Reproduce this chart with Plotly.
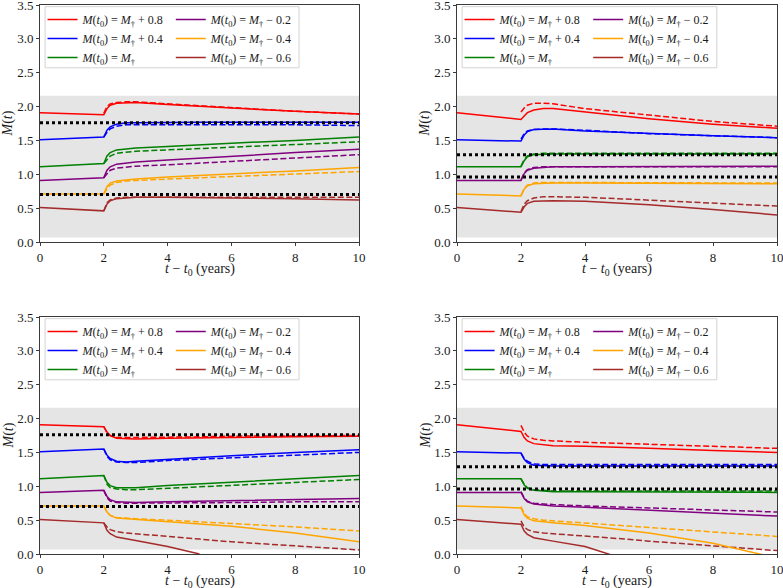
import plotly.graph_objects as go
from plotly.subplots import make_subplots

# ---------------- data ----------------
t = [0, 2, 2.1, 2.2, 2.4, 2.7, 3, 4, 5, 6, 8, 10]

offsets = ["+ 0.8", "+ 0.4", "", "− 0.2", "− 0.4", "− 0.6"]
colors = ["#ff0000", "#0000ff", "#008000", "#800080", "#ffa500", "#a52a2a"]

band_low = 0.065
band_high = 2.16

# panel A (top-left)
A_solid = [
    [1.91, 1.88, 1.97, 2.02, 2.05, 2.06, 2.06, 2.03, 2.01, 1.98, 1.93, 1.89],
    [1.51, 1.55, 1.65, 1.70, 1.74, 1.76, 1.76, 1.77, 1.77, 1.77, 1.77, 1.77],
    [1.11, 1.16, 1.27, 1.32, 1.36, 1.38, 1.39, 1.41, 1.44, 1.46, 1.50, 1.55],
    [0.91, 0.95, 1.06, 1.11, 1.15, 1.17, 1.18, 1.21, 1.24, 1.26, 1.32, 1.37],
    [0.71, 0.71, 0.82, 0.87, 0.90, 0.92, 0.93, 0.96, 0.98, 1.00, 1.05, 1.10],
    [0.51, 0.46, 0.56, 0.61, 0.64, 0.65, 0.66, 0.66, 0.66, 0.65, 0.64, 0.62],
]
A_dashed = [
    [None, 1.90, 2.00, 2.04, 2.06, 2.07, 2.07, 2.04, 2.01, 1.98, 1.93, 1.89],
    [None, 1.55, 1.62, 1.67, 1.71, 1.73, 1.73, 1.74, 1.74, 1.74, 1.73, 1.72],
    [None, 1.16, 1.22, 1.27, 1.31, 1.33, 1.34, 1.36, 1.38, 1.40, 1.44, 1.48],
    [None, 0.95, 1.01, 1.06, 1.09, 1.11, 1.12, 1.14, 1.17, 1.19, 1.24, 1.29],
    [None, 0.71, 0.79, 0.84, 0.88, 0.90, 0.91, 0.93, 0.95, 0.97, 1.00, 1.04],
    [None, 0.46, 0.58, 0.62, 0.65, 0.66, 0.66, 0.67, 0.67, 0.67, 0.67, 0.66],
]
A_levels = [1.76, 0.70]

# panel B (top-right)
B_solid = [
    [1.91, 1.81, 1.86, 1.91, 1.95, 1.97, 1.97, 1.92, 1.87, 1.82, 1.74, 1.68],
    [1.51, 1.49, 1.58, 1.63, 1.66, 1.67, 1.67, 1.64, 1.62, 1.60, 1.57, 1.54],
    [1.11, 1.11, 1.20, 1.26, 1.29, 1.30, 1.30, 1.30, 1.30, 1.30, 1.30, 1.30],
    [0.91, 0.91, 1.01, 1.06, 1.09, 1.10, 1.11, 1.11, 1.11, 1.12, 1.12, 1.12],
    [0.71, 0.68, 0.78, 0.83, 0.86, 0.87, 0.87, 0.87, 0.87, 0.87, 0.87, 0.86],
    [0.51, 0.44, 0.52, 0.57, 0.60, 0.61, 0.61, 0.60, 0.58, 0.55, 0.48, 0.40],
]
B_dashed = [
    [None, 1.92, 1.98, 2.02, 2.05, 2.05, 2.04, 1.97, 1.92, 1.87, 1.78, 1.71],
    [None, 1.52, 1.60, 1.64, 1.66, 1.67, 1.67, 1.65, 1.62, 1.60, 1.57, 1.54],
    [None, 1.12, 1.22, 1.27, 1.30, 1.31, 1.31, 1.31, 1.31, 1.31, 1.31, 1.31],
    [None, 0.92, 1.02, 1.07, 1.10, 1.11, 1.11, 1.11, 1.12, 1.12, 1.12, 1.11],
    [None, 0.69, 0.79, 0.84, 0.87, 0.88, 0.88, 0.88, 0.88, 0.88, 0.87, 0.87],
    [None, 0.45, 0.56, 0.61, 0.65, 0.67, 0.67, 0.66, 0.64, 0.62, 0.58, 0.53],
]
B_levels = [1.29, 0.96]

# panel C (bottom-left)
C_solid = [
    [1.91, 1.88, 1.80, 1.75, 1.71, 1.70, 1.70, 1.71, 1.71, 1.72, 1.73, 1.74],
    [1.51, 1.55, 1.46, 1.41, 1.37, 1.36, 1.37, 1.40, 1.42, 1.45, 1.50, 1.54],
    [1.11, 1.16, 1.06, 1.01, 0.98, 0.98, 0.98, 1.01, 1.04, 1.06, 1.11, 1.16],
    [0.91, 0.94, 0.85, 0.80, 0.77, 0.76, 0.76, 0.77, 0.78, 0.79, 0.80, 0.82],
    [0.71, 0.71, 0.62, 0.57, 0.53, 0.52, 0.51, 0.48, 0.45, 0.41, 0.31, 0.18],
    [0.51, 0.46, 0.35, 0.30, 0.25, 0.22, 0.20, 0.11, 0.00, None, None, None],
]
C_dashed = [
    [None, 1.88, 1.79, 1.75, 1.72, 1.72, 1.72, 1.73, 1.73, 1.74, 1.74, 1.75],
    [None, 1.55, 1.44, 1.39, 1.36, 1.35, 1.35, 1.38, 1.40, 1.42, 1.46, 1.50],
    [None, 1.16, 1.03, 0.98, 0.96, 0.95, 0.95, 0.97, 0.99, 1.01, 1.05, 1.10],
    [None, 0.94, 0.83, 0.78, 0.76, 0.75, 0.75, 0.75, 0.76, 0.76, 0.77, 0.77],
    [None, 0.71, 0.62, 0.57, 0.54, 0.53, 0.52, 0.50, 0.47, 0.45, 0.40, 0.34],
    [None, 0.46, 0.40, 0.36, 0.33, 0.31, 0.30, 0.26, 0.22, 0.18, 0.12, 0.06],
]
C_levels = [1.76, 0.70]

# panel D (bottom-right)
D_solid = [
    [1.91, 1.81, 1.72, 1.67, 1.63, 1.61, 1.60, 1.59, 1.57, 1.56, 1.53, 1.50],
    [1.51, 1.49, 1.40, 1.35, 1.31, 1.30, 1.30, 1.30, 1.30, 1.30, 1.30, 1.30],
    [1.11, 1.11, 1.02, 0.97, 0.94, 0.93, 0.92, 0.92, 0.92, 0.92, 0.91, 0.91],
    [0.91, 0.91, 0.82, 0.77, 0.74, 0.72, 0.71, 0.69, 0.67, 0.65, 0.61, 0.56],
    [0.71, 0.68, 0.58, 0.53, 0.49, 0.47, 0.46, 0.42, 0.37, 0.31, 0.16, -0.06],
    [0.51, 0.44, 0.34, 0.29, 0.24, 0.21, 0.19, 0.11, -0.04, None, None, None],
]
D_dashed = [
    [None, 1.90, 1.80, 1.74, 1.70, 1.68, 1.67, 1.65, 1.63, 1.62, 1.59, 1.56],
    [None, 1.49, 1.41, 1.37, 1.33, 1.32, 1.32, 1.32, 1.32, 1.32, 1.32, 1.32],
    [None, 1.11, 1.03, 0.98, 0.95, 0.94, 0.93, 0.93, 0.93, 0.93, 0.93, 0.93],
    [None, 0.92, 0.83, 0.78, 0.75, 0.74, 0.73, 0.71, 0.70, 0.68, 0.65, 0.62],
    [None, 0.70, 0.60, 0.55, 0.52, 0.50, 0.49, 0.46, 0.43, 0.40, 0.33, 0.26],
    [None, 0.49, 0.40, 0.36, 0.33, 0.31, 0.30, 0.27, 0.23, 0.19, 0.12, 0.05],
]
D_levels = [1.29, 0.96]

x_ticks = [0, 2, 4, 6, 8, 10]
y_ticks = [0.0, 0.5, 1.0, 1.5, 2.0, 2.5, 3.0, 3.5]

x_title = "<i>t</i> − <i>t</i><sub>0</sub> (years)"
y_title = "<i>M</i>(<i>t</i>)"

panels = [
    (1, 1, A_solid, A_dashed, A_levels),
    (1, 2, B_solid, B_dashed, B_levels),
    (2, 1, C_solid, C_dashed, C_levels),
    (2, 2, D_solid, D_dashed, D_levels),
]

# ---------------- figure ----------------
W, H = 783, 588
FONT = "Liberation Serif, DejaVu Serif, serif"
TXT = "#1a1a1a"
AX = "#3a3a3a"

fig = make_subplots(rows=2, cols=2)

xdom = {1: [40 / W, 359 / W], 2: [457 / W, 777 / W]}
ydom = {1: [(H - 242) / H, (H - 5) / H], 2: [(H - 554) / H, (H - 317) / H]}


def label(off):
    base = "<i>M</i>(<i>t</i><sub>0</sub>) = <i>M</i><sub>†</sub>"
    return base + (" " + off if off else "")


for pi, (r, c, solid, dashed, levels) in enumerate(panels):
    leg_a = "legend" if pi == 0 else f"legend{2 * pi + 1}"
    leg_b = f"legend{2 * pi + 2}"
    for k in range(6):
        fig.add_trace(
            go.Scatter(
                x=t, y=dashed[k], mode="lines",
                line=dict(color=colors[k], width=1.5, dash="6px,2.6px"),
                showlegend=False, hoverinfo="skip", connectgaps=False,
            ),
            row=r, col=c,
        )
    for k in range(6):
        fig.add_trace(
            go.Scatter(
                x=t, y=solid[k], mode="lines",
                line=dict(color=colors[k], width=1.5),
                name=label(offsets[k]),
                legend=leg_a if k < 3 else leg_b,
                showlegend=True, connectgaps=False,
            ),
            row=r, col=c,
        )
    for lv in levels:
        fig.add_trace(
            go.Scatter(
                x=[t[0], t[-1]], y=[lv, lv], mode="lines",
                line=dict(color="black", width=3, dash="dot"),
                showlegend=False, hoverinfo="skip",
            ),
            row=r, col=c,
        )

    xa = "x" if pi == 0 else f"x{pi + 1}"
    ya = "y" if pi == 0 else f"y{pi + 1}"
    # grey band
    fig.add_shape(
        type="rect", xref=f"{xa} domain", yref=ya,
        x0=0, x1=1, y0=band_low, y1=band_high,
        fillcolor="#e5e5e5", line=dict(width=0), layer="below",
    )
    # legend frame
    fig.add_shape(
        type="rect", xref=f"{xa} domain", yref=f"{ya} domain",
        x0=0.016, x1=0.812, y0=0.735, y1=0.993,
        fillcolor="rgba(255,255,255,0.85)",
        line=dict(color="#d3d3d3", width=1), layer="above",
    )

    xd, yd = xdom[c], ydom[r]
    wdt = xd[1] - xd[0]
    hgt = yd[1] - yd[0]
    common = dict(
        yanchor="top", xanchor="left", bgcolor="rgba(0,0,0,0)", borderwidth=0,
        font=dict(family=FONT, size=12, color=TXT), tracegroupgap=0,
        itemwidth=30,
    )
    fig.update_layout(**{
        leg_a: dict(x=xd[0] + 0.008 * wdt, y=yd[0] + 1.0 * hgt, **common),
        leg_b: dict(x=xd[0] + 0.41 * wdt, y=yd[0] + 1.0 * hgt, **common),
    })

    axis_common = dict(
        showline=True, mirror=True, linecolor=AX, linewidth=1,
        ticks="outside", ticklen=3, tickcolor=AX, tickwidth=1,
        showgrid=False, zeroline=False, automargin=False,
        ticklabeloverflow="allow",
        tickfont=dict(family=FONT, size=13, color=TXT),
    )
    fig.update_xaxes(
        domain=xd, range=[0, 10], tickvals=x_ticks,
        ticktext=[str(v) for v in x_ticks],
        row=r, col=c, **axis_common,
    )
    fig.update_yaxes(
        domain=yd, range=[0, 3.5], tickvals=y_ticks,
        ticktext=[f"{v:.1f}" for v in y_ticks],
        row=r, col=c, **axis_common,
    )

    # axis titles as annotations (matplotlib-like placement)
    fig.add_annotation(
        text=x_title, xref="paper", yref="paper",
        x=(xd[0] + xd[1]) / 2, y=yd[0] - 27 / H,
        xanchor="center", yanchor="middle", showarrow=False,
        font=dict(family=FONT, size=14, color=TXT),
    )
    fig.add_annotation(
        text=y_title, xref="paper", yref="paper",
        x=xd[0] - 32 / W, y=(yd[0] + yd[1]) / 2,
        xanchor="center", yanchor="middle", showarrow=False, textangle=-90,
        font=dict(family=FONT, size=14, color=TXT),
    )

fig.update_layout(
    width=W, height=H, template="none",
    margin=dict(l=0, r=0, t=0, b=0),
    paper_bgcolor="white", plot_bgcolor="white",
)

fig.write_html(
    "out.html",
    config={"displayModeBar": False},
    post_script="document.body.style.margin='0';document.body.style.overflow='hidden';",
)
